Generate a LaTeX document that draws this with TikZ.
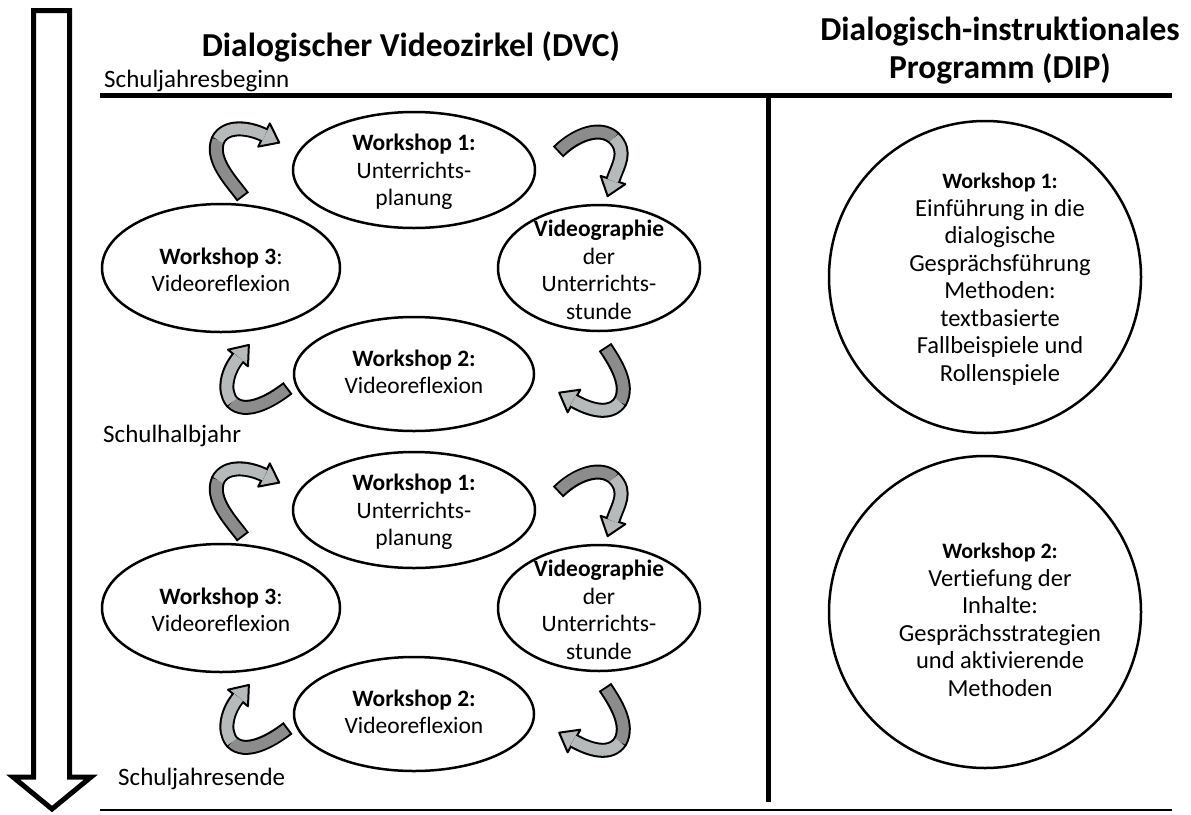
\documentclass[tikz,border=0pt]{standalone}
\usepackage{fontspec}
\setmainfont[Ligatures=NoCommon]{Carlito}
\usetikzlibrary{shapes.geometric,calc}
\definecolor{lightg}{RGB}{182,186,186}
\definecolor{darkg}{RGB}{140,140,140}
\newcommand\bodyfont{\fontsize{23.5}{27.5}\selectfont}
\newcommand\dipfont{\fontsize{24.5}{27.5}\selectfont}
\newcommand\lblfont{\fontsize{25}{28}\selectfont}
\newcommand\titlefont{\fontsize{33.5}{38}\selectfont\bfseries}
\newcommand\carrow[7]{%
  \draw[line width=15pt,black] (#1) .. controls (#2) and (#3) .. (#4) .. controls (#5) and (#6) .. (#7);
  \coordinate (E) at (#7);
  \coordinate (P) at (#6);
  \filldraw[fill=lightg,draw=black,line width=2pt,line join=round]
    ($(E)!-17pt!(P)$) -- ($(E)!13pt!90:(P)$) -- ($(E)!13pt!-90:(P)$) -- cycle;
  \draw[line width=11pt,darkg,shorten <=2pt] (#1) .. controls (#2) and (#3) .. (#4);
  \draw[line width=11pt,lightg,shorten >=-1pt] (#4) .. controls (#5) and (#6) .. (#7);
}
\tikzset{
  ell/.style={ellipse,draw,line width=2.5pt,inner sep=0pt},
  txt/.style={align=center,font=\bodyfont,inner sep=0pt},
  diptxt/.style={align=center,font=\dipfont,inner sep=0pt},
  lbl/.style={font=\lblfont,inner sep=0pt,anchor=base west},
}
\newcommand\dvccycle[2]{%
  \begin{scope}[shift={(0,#1)}]
    \carrow{243,197}{232,182}{210,160}{218,140}{226,124}{250,128}{264,135}
    \carrow{558,152}{575,135}{600,125}{614,138}{628,152}{618,165}{613,180}
    \carrow{605,347}{615,362}{630,385}{620,402}{610,416}{590,410}{574,401}
    \carrow{288,388}{270,402}{245,415}{232,402}{222,390}{228,370}{238,358}
    \node[ell,minimum width=242pt,minimum height=116pt] (w1#2) at (414,170) {};
    \node[txt] (w1t#2) at (414,172) {\textbf{Workshop 1:}\\Unterrichts-\\planung};
    \node[ell,minimum width=238pt,minimum height=128pt] (w3#2) at (221,268) {};
    \node[txt] (w3t#2) at (221,270) {\textbf{Workshop 3}:\\Videoreflexion};
    \node[ell,minimum width=202pt,minimum height=126pt] (vg#2) at (599,268) {};
    \node[txt] (vgt#2) at (599,270) {\textbf{Videographie}\\der\\Unterrichts-\\stunde};
    \node[ell,minimum width=240pt,minimum height=114pt] (w2#2) at (414,374) {};
    \node[txt] (w2t#2) at (414,372) {\textbf{Workshop 2:}\\Videoreflexion};
  \end{scope}}
\begin{document}
\begin{tikzpicture}[x=1pt,y=-1pt]
\useasboundingbox[fill=white] (0,0) rectangle (1191,814);
% time arrow
\draw[line width=5pt,line join=miter,fill=white] (33.5,10.5) -- (69.5,10.5) -- (69.5,777) -- (91,777) -- (52,809) -- (13,777) -- (33.5,777) -- cycle;
% titles
\node[font=\titlefont,inner sep=0pt,anchor=base] (dvc) at (411,56) {Dialogischer Videozirkel (DVC)};
\node[font=\titlefont,inner sep=0pt,anchor=base] (dip1) at (1000,40) {Dialogisch-instruktionales};
\node[font=\titlefont,inner sep=0pt,anchor=base] (dip2) at (1000,78) {Programm (DIP)};
% rules
\coordinate (tl) at (100,95);
\coordinate (tr) at (1172,95);
\coordinate (bl) at (100,810);
\coordinate (br) at (1172,810);
\coordinate (vt) at (768,97);
\coordinate (vb) at (768,802);
\draw[line width=5pt] (tl) -- (tr);
\draw[line width=5pt] (vt) -- (vb);
\draw[line width=2pt] (bl) -- (br);
% labels
\node[lbl] (beg) at (104,87) {Schuljahresbeginn};
\node[lbl] (half) at (103,442) {Schulhalbjahr};
\node[lbl] (end) at (118,785) {Schuljahresende};
% cycles
\dvccycle{0}{a}
\dvccycle{340}{b}
% DIP circles
\node[circle,draw,line width=2.5pt,minimum size=312pt,inner sep=0pt] (c1) at (985,277) {};
\node[diptxt] (c1t) at (1000,279) {{\fontsize{22}{27.5}\selectfont\textbf{Workshop 1:}}\\Einführung in die\\dialogische\\Gesprächsführung\\Methoden:\\textbasierte\\Fallbeispiele und\\Rollenspiele};
\node[circle,draw,line width=2.5pt,minimum size=312pt,inner sep=0pt] (c2) at (985,612) {};
\node[diptxt] (c2t) at (1000,620) {{\fontsize{22}{27.5}\selectfont\textbf{Workshop 2:}}\\Vertiefung der\\Inhalte:\\Gesprächsstrategien\\und aktivierende\\Methoden};
\end{tikzpicture}
\end{document}
